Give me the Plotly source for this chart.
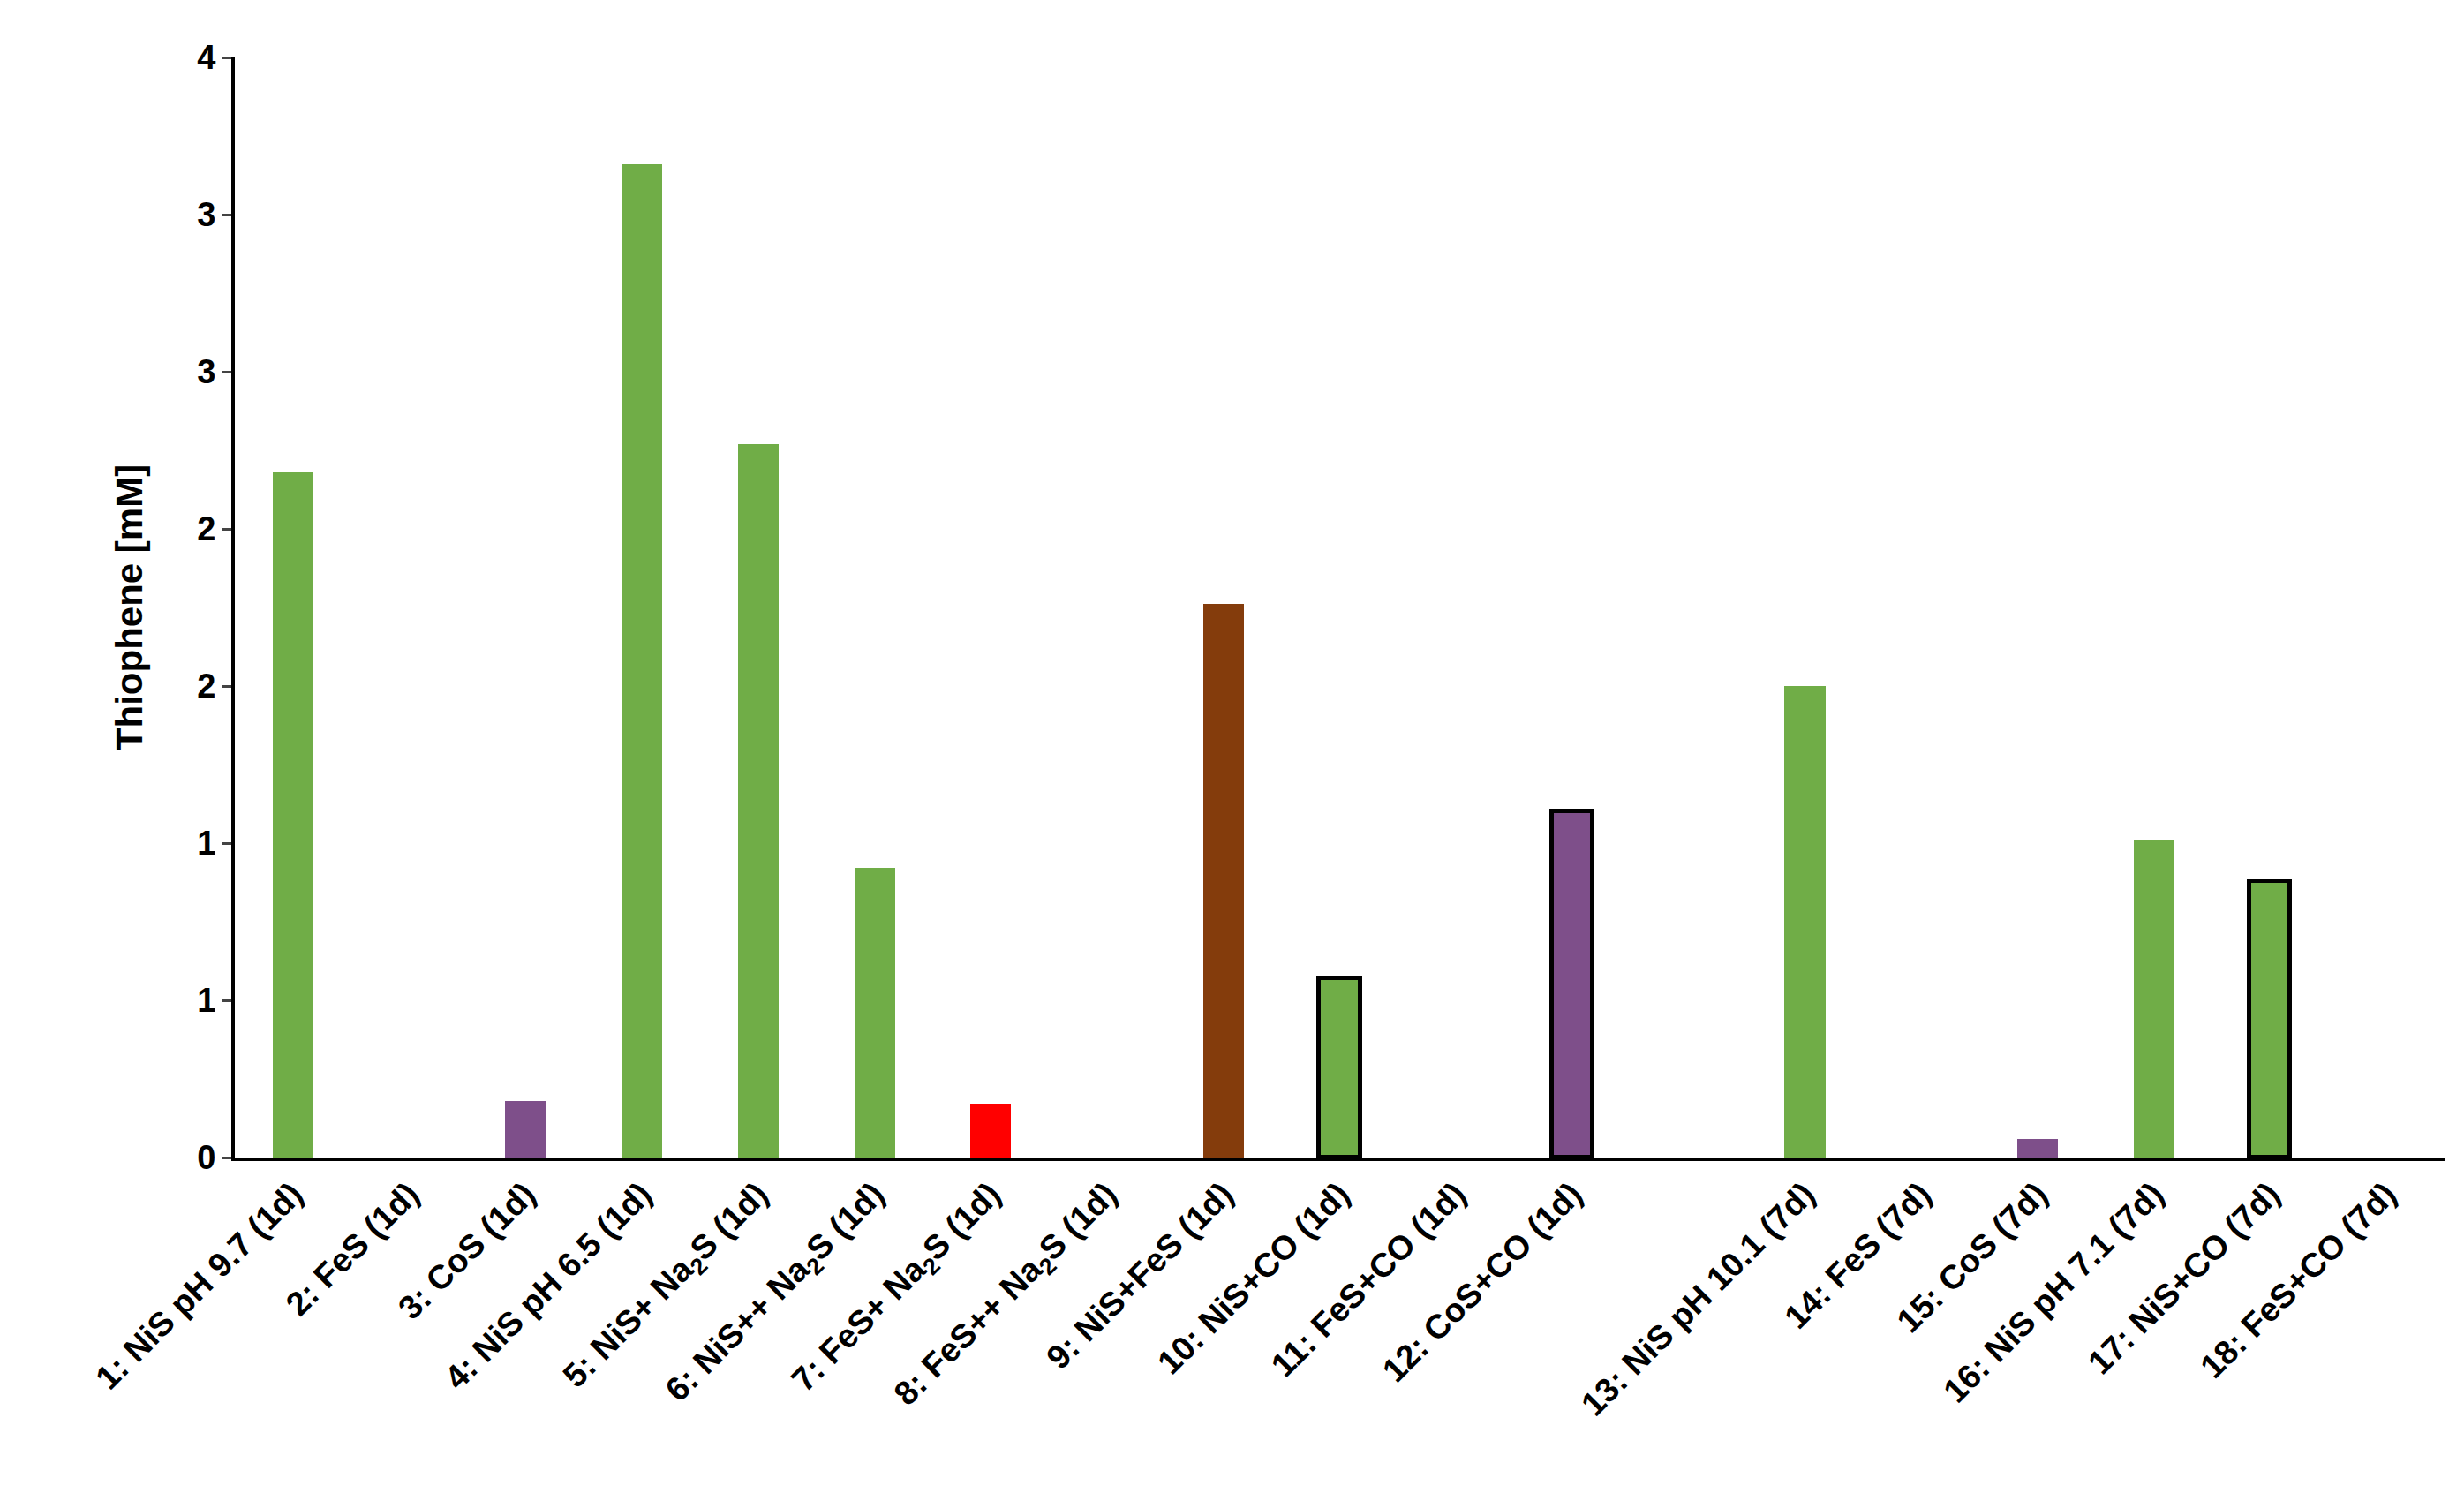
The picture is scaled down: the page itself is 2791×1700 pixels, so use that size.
import plotly.graph_objects as go

categories = ["1: NiS pH 9.7 (1d)", "2: FeS (1d)", "3: CoS (1d)", "4: NiS pH 6.5 (1d)",
              "5: NiS+ Na<sub>2</sub>S (1d)", "6: NiS++ Na<sub>2</sub>S (1d)",
              "7: FeS+ Na<sub>2</sub>S (1d)", "8: FeS++ Na<sub>2</sub>S (1d)",
              "9: NiS+FeS (1d)", "10: NiS+CO (1d)", "11: FeS+CO (1d)", "12: CoS+CO (1d)",
              " ",
              "13: NiS pH 10.1 (7d)", "14: FeS (7d)", "15: CoS (7d)", "16: NiS pH 7.1 (7d)",
              "17: NiS+CO (7d)", "18: FeS+CO (7d)"]
values = [2.18, 0, 0.18, 3.16, 2.27, 0.92, 0.17, 0, 1.76, 0.57, 0, 1.10,
          0, 1.50, 0, 0.06, 1.01, 0.88, 0]
colors = ["#70AD47", "#70AD47", "#7E4F8A", "#70AD47", "#70AD47", "#70AD47", "#FF0000",
          "#FF0000", "#843C0C", "#70AD47", "#70AD47", "#7E4F8A", "#70AD47",
          "#70AD47", "#70AD47", "#7E4F8A", "#70AD47", "#70AD47", "#70AD47"]
outlined = [False] * 9 + [True, False, True, False, False, False, False, False, True, False]

tick_vals = [0, 0.5, 1, 1.5, 2, 2.5, 3, 3.5]
tick_text = ["0", "1", "1", "2", "2", "3", "3", "4"]

fig = go.Figure(go.Bar(
    x=categories, y=values, width=0.35,
    marker=dict(color=colors,
                line=dict(color=["black" if o else "rgba(0,0,0,0)" for o in outlined],
                          width=[5 if o else 0 for o in outlined])),
))
fig.update_layout(
    width=2791, height=1700, plot_bgcolor="white", paper_bgcolor="white",
    margin=dict(l=258, r=30, t=57, b=397),
    font=dict(family="Liberation Sans, Arial", size=38, color="black"),
    showlegend=False, bargap=0,
)
fig.update_xaxes(showline=True, linecolor="black", linewidth=4, tickangle=-45,
                 tickfont=dict(size=38, family="Liberation Sans, Arial", weight="bold"))
fig.update_yaxes(range=[0, 3.5], tickvals=tick_vals, ticktext=tick_text,
                 showline=True, linecolor="black", linewidth=4, showgrid=False,
                 ticks="outside", ticklen=10, tickwidth=3, zeroline=False,
                 tickfont=dict(size=38, weight="bold"),
                 title=dict(text="<b>Thiophene [mM]</b>", font=dict(size=42), standoff=50))
fig.write_html("out.html")
